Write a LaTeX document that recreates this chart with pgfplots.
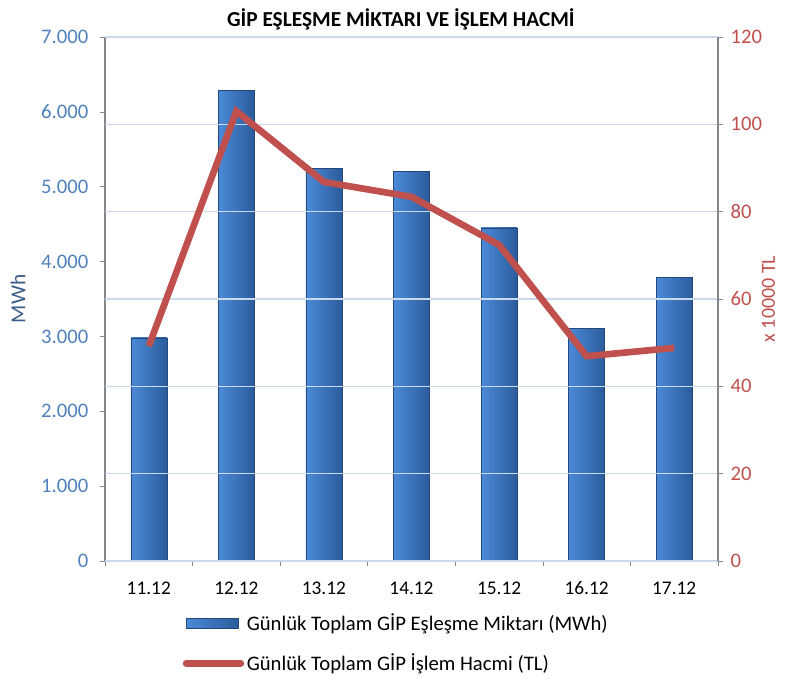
\documentclass[border=0pt]{standalone}
\usepackage{pgfplots}
\pgfplotsset{compat=1.18}
\usepackage{fontspec}
\setmainfont{Carlito}

\definecolor{tickblue}{HTML}{4F81BD}
\definecolor{labblue}{HTML}{385D8A}
\definecolor{linered}{HTML}{C0504D}
\definecolor{gridc}{HTML}{C9D9EE}
\definecolor{axgray}{HTML}{868686}
\definecolor{barL}{HTML}{4B8AD8}
\definecolor{barM}{HTML}{3D7BCA}
\definecolor{barR}{HTML}{2B5C9C}
\definecolor{barE}{HTML}{24487A}

\pgfplotstableread{
x tl
0 49.2
1 103.0
2 86.8
3 83.4
4 72.4
5 46.9
6 48.8
}\tldata

\tikzset{barstyle/.style={draw=barE, line width=0.3pt, left color=barL, middle color=barM, right color=barR}}

\pgfplotsset{
  common/.style={
    scale only axis,
    width=459.75pt, height=393pt,
    xmin=-0.5, xmax=6.5,
    ymin=0,
    tick align=outside,
    major tick length=4pt,
    every tick/.style={axgray, thin},
    /pgf/number format/assume math mode=true,
  },
}

\begin{document}
\begin{tikzpicture}
\path[use as bounding box] (-78.75pt,-90.75pt) rectangle (511.5pt,420.75pt);

\begin{axis}[common,
  ymax=7000,
  axis y line*=left,
  axis x line*=bottom,
  axis line style={axgray, line width=0.8pt},
  ytick={0,1000,...,7000},
  yticklabel style={tickblue, font=\fontsize{15.5pt}{18pt}\selectfont, xshift=-5pt,
    /pgf/number format/.cd, fixed, 1000 sep={.}},
  xtick={-0.5,0.5,...,6.5},
  xticklabels={},
  extra x ticks={0,1,2,3,4,5,6},
  extra x tick labels={11.12,12.12,13.12,14.12,15.12,16.12,17.12},
  extra x tick style={major tick length=0pt,
    xticklabel style={black, font=\fontsize{14.5pt}{17pt}\selectfont, yshift=-12pt}},
  ylabel={MWh},
  ylabel style={labblue, font=\fontsize{16pt}{19pt}\selectfont},
  ylabel shift=5pt,
  ybar, bar width=27pt, bar shift=0pt,
  title={\textbf{GİP EŞLEŞME MİKTARI VE İŞLEM HACMİ}},
  title style={font=\fontsize{16pt}{19pt}\selectfont, yshift=-4pt, xshift=-8pt},
]
% one bar per plot so that each bar gets its own shading
\addplot[barstyle] coordinates {(0,2980)};
\addplot[barstyle] coordinates {(1,6290)};
\addplot[barstyle] coordinates {(2,5250)};
\addplot[barstyle] coordinates {(3,5210)};
\addplot[barstyle] coordinates {(4,4450)};
\addplot[barstyle] coordinates {(5,3110)};
\addplot[barstyle] coordinates {(6,3790)};
\end{axis}

\begin{axis}[common,
  ymax=120,
  axis y line*=right,
  axis x line=none,
  axis line style={axgray, line width=0.8pt},
  ytick={0,20,...,120},
  ymajorgrids,
  grid style={gridc, line width=0.8pt},
  yticklabel style={linered, font=\fontsize{15.5pt}{18pt}\selectfont, xshift=2pt},
  ylabel={x 10000 TL},
  ylabel style={linered, font=\fontsize{15pt}{18pt}\selectfont},
  ylabel shift=-7pt,
  legend style={at={(0.12,-0.09)}, anchor=north west, draw=none, fill=none,
    font=\fontsize{15.5pt}{18pt}\selectfont, row sep=12pt},
  legend cell align=left,
]
\addlegendimage{legend image code/.code={
  \path[barstyle] (0pt,-3.5pt) rectangle (39pt,3.5pt);}}
\addlegendentry{Günlük Toplam GİP Eşleşme Miktarı (MWh)}
\addplot[linered, line width=5pt, mark=none,
  legend image code/.code={
  \draw[linered, line width=5pt, line cap=round] (0pt,0pt) -- (41pt,0pt);}]
  table[x=x, y=tl] {\tldata};
\addlegendentry{Günlük Toplam GİP İşlem Hacmi (TL)}
\end{axis}
\end{tikzpicture}
\end{document}
